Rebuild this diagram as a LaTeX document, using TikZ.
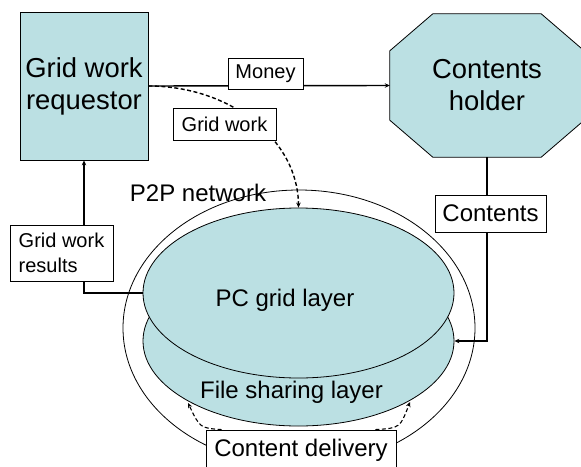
\documentclass[tikz,border=0pt]{standalone}
\usepackage{fontspec}
\setmainfont{Liberation Sans}
\usetikzlibrary{shapes.geometric,arrows.meta}
\definecolor{layerfill}{RGB}{187,224,227}
\begin{document}
\begin{tikzpicture}[x=1pt,y=-1pt,
  big/.style={font=\fontsize{27.4}{32}\selectfont, align=center},
  mid/.style={font=\fontsize{24}{28}\selectfont},
  small/.style={font=\fontsize{20}{25}\selectfont},
  tag/.style={draw, fill=white, line width=0.8pt, inner sep=0pt},
  link/.style={line width=1.4pt, -{Stealth[length=5pt,width=4.5pt]}},
  dlink/.style={link, dash pattern=on 4pt off 2.5pt},
  layer/.style={ellipse, draw, fill=layerfill, line width=0.8pt,
    minimum width=311pt, minimum height=170pt, inner sep=0pt}
]
\useasboundingbox (0,0) rectangle (581,466);

% P2P network with its two layers
\node[ellipse, draw, line width=0.8pt, minimum width=352pt, minimum height=276pt,
      inner sep=0pt] (p2p) at (299,328) {};
\node[layer] (fs) at (298.5,341) {};
\node[layer] (pc) at (298.5,293) {};
\node[mid] (pctxt) at (285,300) {PC grid layer};
\node[mid] (fstxt) at (291.5,392) {File sharing layer};
\node[mid] (p2ptxt) at (198,193) {P2P network};

% grid work requestor
\node[draw, fill=layerfill, line width=0.8pt, minimum width=128pt,
      minimum height=148pt, inner sep=0pt, big] (req) at (84,86) {Grid work\\requestor};

% contents holder (octagon)
\node[minimum width=194pt, minimum height=143pt, inner sep=0pt] (holder) at (487,85.5) {};
\filldraw[fill=layerfill, line width=0.8pt]
  ([xshift=43pt]holder.north west) -- ([xshift=-43pt]holder.north east)
  -- ([yshift=-37pt]holder.north east) -- ([yshift=37pt]holder.south east)
  -- ([xshift=-43pt]holder.south east) -- ([xshift=43pt]holder.south west)
  -- ([yshift=37pt]holder.south west) -- ([yshift=-37pt]holder.north west) -- cycle;
\node[big] (holdertxt) at (holder.center) {Contents\\holder};

% connectors
\draw[link] (req.east) -- (holder.west);
\draw[dlink] (req.east) .. controls (231,86) and (298,140) .. (pc.north);
\draw[link] (holder.south) |- (fs.east);
\draw[link] (pc.west) -| (req.south);

% labels
\node[tag, small, minimum width=75pt, minimum height=31pt] (money) at (265.5,73.5) {Money};
\node[tag, small, minimum width=103pt, minimum height=32pt] (gw) at (224.5,124) {Grid work};
\node[tag, mid, minimum width=111pt, minimum height=37pt] (contents) at (490.5,213.5) {Contents};
\node[tag, small, minimum width=103pt, minimum height=56pt, align=left] (gwr)
  at (61.5,253) {Grid work\\results};
\node[tag, mid, minimum width=190pt, minimum height=40pt] (cd) at (301,450) {Content delivery};

% content delivery arrows into the file sharing layer
\coordinate (cdl) at (188,403);
\coordinate (cdr) at (410,402);
\draw[dlink, line width=1.1pt] ([xshift=16pt]cd.north west) .. controls (200,428) .. (cdl);
\draw[dlink, line width=1.1pt] ([xshift=-21pt]cd.north east) .. controls (400,428) .. (cdr);
\end{tikzpicture}
\end{document}
